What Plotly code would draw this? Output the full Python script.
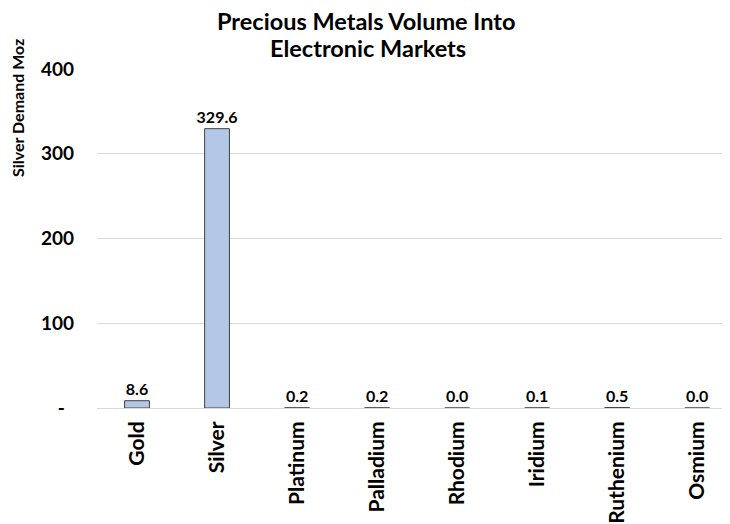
import plotly.graph_objects as go

categories = ["Gold", "Silver", "Platinum", "Palladium", "Rhodium", "Iridium", "Ruthenium", "Osmium"]
values = [8.6, 329.6, 0.2, 0.2, 0.0, 0.1, 0.5, 0.0]
labels = ["8.6", "329.6", "0.2", "0.2", "0.0", "0.1", "0.5", "0.0"]
y_ticks = [0, 100, 200, 300, 400]
y_tick_labels = ["-\u00a0\u00a0", "100", "200", "300", "400"]

FONT = "Lato, 'Open Sans', sans-serif"
L, T, PW, PH = 89, 61, 633, 339

fig = go.Figure(go.Bar(
    x=categories, y=values,
    width=0.31,
    marker=dict(color="#B4C7E7", line=dict(color="#404040", width=1)),
    text=["<b>" + t + "</b>" for t in labels], textposition="outside",
    textfont=dict(family=FONT, size=16, color="#000000"),
    cliponaxis=False,
))

fig.update_layout(
    width=730, height=524,
    margin=dict(l=L, r=730 - L - PW, t=T, b=524 - T - PH, autoexpand=False),
    paper_bgcolor="white", plot_bgcolor="white",
    font=dict(family=FONT, color="#000000"),
    showlegend=False,
    uniformtext=dict(minsize=16, mode="show"),
)
fig.update_xaxes(range=[-0.5, 7.41], tickangle=-90, showgrid=False, automargin=False,
                 tickfont=dict(family=FONT, size=21, color="#000000"),
                 ticks="", showline=True, linecolor="#D9D9D9", linewidth=1,
                 ticklabelstandoff=4,
                 tickprefix="<b>", ticksuffix="</b>")
fig.update_yaxes(range=[0, 400], tickvals=y_ticks, ticktext=["<b>" + t + "</b>" for t in y_tick_labels],
                 showgrid=True, gridcolor="#D9D9D9", gridwidth=1, automargin=False,
                 zeroline=False, ticks="", ticklen=0, ticklabelstandoff=22,
                 tickfont=dict(family=FONT, size=19, color="#000000"))
fig.add_annotation(text="<b>Silver Demand Moz</b>", xref="paper", yref="paper",
                   x=(9 - L) / PW, y=1 + (T - 29) / PH, xanchor="center", yanchor="top", textangle=-90,
                   showarrow=False, font=dict(family=FONT, size=16, color="#000000"))
fig.add_annotation(text="<b>Precious Metals Volume Into</b>", xref="paper", yref="paper",
                   x=(358 - L) / PW, y=1 + (T - 13) / PH, xanchor="center", yanchor="middle",
                   showarrow=False, font=dict(family=FONT, size=23.5, color="#000000"))
fig.add_annotation(text="<b>Electronic Markets</b>", xref="paper", yref="paper",
                   x=(360 - L) / PW, y=1 + (T - 40) / PH, xanchor="center", yanchor="middle",
                   showarrow=False, font=dict(family=FONT, size=23.5, color="#000000"))

fig.write_html("out.html")
